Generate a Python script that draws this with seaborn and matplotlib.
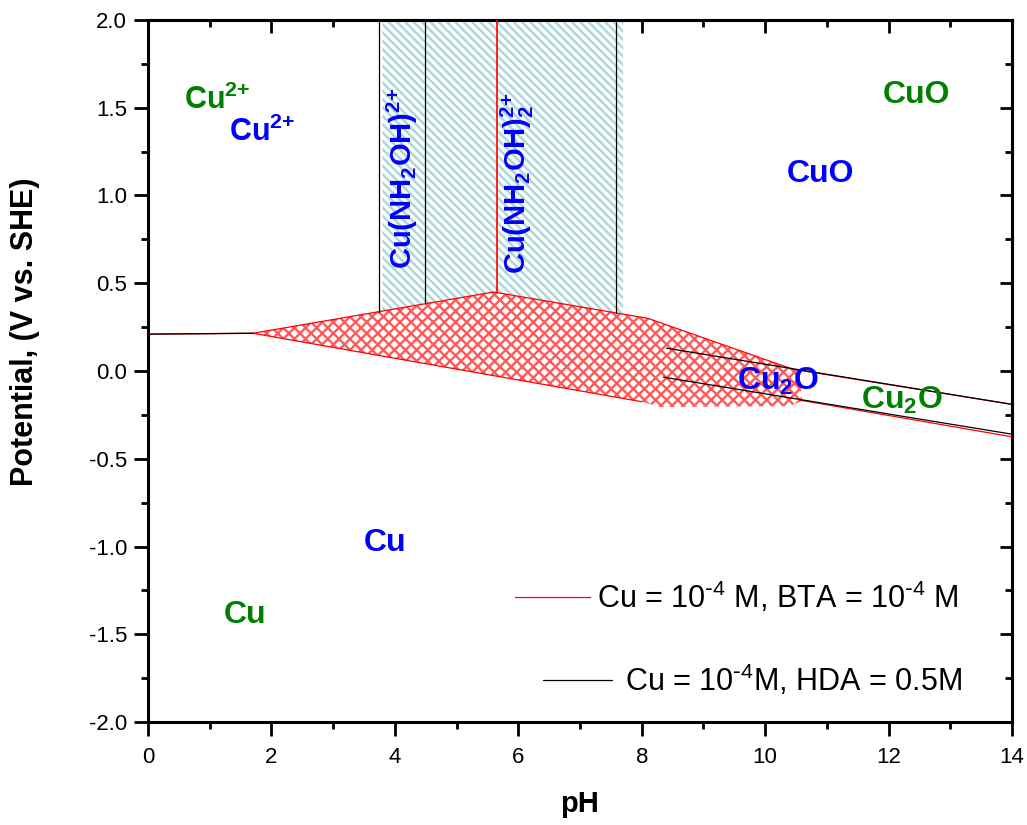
import numpy as np
import pandas as pd
import matplotlib
matplotlib.use("Agg")
import matplotlib.pyplot as plt
from matplotlib.ticker import MultipleLocator
import seaborn as sns

# ---- boundary data (pH, potential V vs. SHE) ----
# Cu / BTA system
bta_base_ph = [0.0, 1.7]
bta_base_e = [0.21, 0.215]
bta_upper_ph = [1.7, 5.6, 8.1, 10.45, 14.0]
bta_upper_e = [0.215, 0.45, 0.30, 0.01, -0.19]
bta_lower_left_ph = [1.7, 8.0]
bta_lower_left_e = [0.215, -0.175]
bta_lower_right_ph = [10.55, 14.0]
bta_lower_right_e = [-0.165, -0.375]
bta_vertical_ph = [5.66, 5.66]
bta_vertical_e = [0.446, 2.0]

# Cu-BTA film region (top edge left->right, bottom edge right->left)
film_top_ph = [1.7, 5.6, 8.1, 10.55]
film_top_e = [0.215, 0.45, 0.30, 0.0]
film_bottom_ph = [10.6, 10.4, 8.3, 8.0, 1.7]
film_bottom_e = [-0.17, -0.20, -0.205, -0.175, 0.215]

# Cu / HDA system
hda_base_ph = [0.0, 1.7]
hda_base_e = [0.21, 0.215]
hda_vert_ph = [3.74, 4.49, 7.58]
hda_vert_e_low = [0.335, 0.385, 0.33]
hda_upper_ph = [8.4, 14.0]
hda_upper_e = [0.13, -0.19]
hda_lower_ph = [8.35, 14.0]
hda_lower_e = [-0.035, -0.36]

# Cu(NH2OH) complex region
complex_ph = [3.8, 4.49, 5.6, 7.7]
complex_e_low = [0.34, 0.385, 0.45, 0.32]
complex_e_top = 2.0

# species labels: (text, pH, E, colour, rotation, size)
label_text = [r"Cu$^{2{+}}$", r"Cu$^{2{+}}$", "CuO", "CuO",
              r"Cu(NH$_2$OH)$^{2{+}}$", r"Cu(NH$_2$OH)$_2^{2{+}}$",
              r"Cu$_2$O", r"Cu$_2$O", "Cu", "Cu"]
label_ph = [1.12, 1.85, 12.45, 10.9, 4.12, 5.98, 10.2, 12.22, 3.84, 1.57]
label_e = [1.54, 1.36, 1.57, 1.12, 1.10, 1.07, -0.06, -0.17, -0.98, -1.39]
label_color = ["green", "blue", "green", "blue", "blue", "blue",
               "blue", "green", "blue", "green"]
label_rot = [0, 0, 0, 0, 90, 90, 0, 0, 0, 0]
label_size = [22, 22, 23, 23, 21, 21, 23, 23, 23, 23]

legend_text = [r"Cu = 10$^{\text{-}4}$ M, BTA = 10$^{\text{-}4}$ M",
               r"Cu = 10$^{\text{-}4}$M, HDA = 0.5M"]

sns.set_theme(style="ticks")
plt.rcParams["font.family"] = ["Liberation Sans", "DejaVu Sans"]
plt.rcParams["mathtext.default"] = "regular"
for key in ["text.color", "axes.labelcolor", "xtick.color", "ytick.color",
            "axes.edgecolor"]:
    plt.rcParams[key] = "black"

RED = "#ff0000"

fig = plt.figure(figsize=(10.27, 8.25), dpi=100)
ax = fig.add_axes([0.1441, 0.1248, 0.8413, 0.8510])


def seg(x, y, color, lw=0.9):
    df = pd.DataFrame({"pH": x, "E": y})
    sns.lineplot(data=df, x="pH", y="E", ax=ax, color=color, lw=lw,
                 sort=False, estimator=None, zorder=4)


# hatched complex region
with plt.rc_context({"hatch.linewidth": 1.7}):
    xs = complex_ph + complex_ph[::-1]
    ys = complex_e_low + [complex_e_top] * len(complex_ph)
    ax.fill(xs, ys, facecolor="white", edgecolor="#a9d7d8",
            hatch="\\" * 4, lw=0, zorder=1)

# patterned film region
with plt.rc_context({"hatch.linewidth": 1.7}):
    ax.fill(film_top_ph + film_bottom_ph, film_top_e + film_bottom_e,
            facecolor="white", edgecolor="#ff5a5a", hatch="xxx",
            lw=0, zorder=2)

# red (BTA) boundaries
seg(bta_base_ph, bta_base_e, RED)
seg(bta_upper_ph, bta_upper_e, RED)
seg(bta_lower_left_ph, bta_lower_left_e, RED)
seg(bta_lower_right_ph, bta_lower_right_e, RED)
seg(bta_vertical_ph, bta_vertical_e, RED, lw=1.2)

# black (HDA) boundaries
seg(hda_base_ph, hda_base_e, "black")
for p, lo in zip(hda_vert_ph, hda_vert_e_low):
    seg([p, p], [lo, 2.0], "black")
seg(hda_upper_ph, hda_upper_e, "black")
seg(hda_lower_ph, hda_lower_e, "black")

for t, x, y, c, r, fs in zip(label_text, label_ph, label_e, label_color,
                             label_rot, label_size):
    ax.text(x, y, t, color=c, rotation=r, fontsize=fs, fontweight="bold",
            ha="center", va="center", zorder=5)

# legend entries
ax.plot([0.425, 0.512], [0.178, 0.178], transform=ax.transAxes,
        color=RED, lw=0.9)
ax.text(0.52, 0.178, legend_text[0], transform=ax.transAxes,
        fontsize=22, va="center", ha="left")
ax.plot([0.457, 0.537], [0.060, 0.060], transform=ax.transAxes,
        color="black", lw=0.9)
ax.text(0.552, 0.060, legend_text[1], transform=ax.transAxes,
        fontsize=22, va="center", ha="left")

ax.set_xlim(0, 14)
ax.set_ylim(-2.0, 2.0)
ax.xaxis.set_minor_locator(MultipleLocator(1))
ax.yaxis.set_minor_locator(MultipleLocator(0.25))
ax.set_xticks(np.arange(0, 15, 2))
ax.set_xticklabels([str(v) for v in range(0, 15, 2)])
ax.set_yticks(np.arange(-2.0, 2.01, 0.5))
ax.set_yticklabels([f"{v:.1f}" for v in np.arange(-2.0, 2.01, 0.5)])

ax.tick_params(which="major", direction="out", length=10, width=2,
               labelsize=16, colors="black", pad=5)
ax.tick_params(axis="x", which="major", pad=8)
ax.tick_params(which="minor", direction="out", length=5, width=2)

for s in ax.spines.values():
    s.set_visible(True)
    s.set_linewidth(2.2)
    s.set_color("black")

# mirrored inward ticks on top and right
top = ax.secondary_xaxis("top")
top.xaxis.set_major_locator(MultipleLocator(2))
top.xaxis.set_minor_locator(MultipleLocator(1))
top.tick_params(which="major", direction="in", length=9, width=2, labeltop=False)
top.tick_params(which="minor", direction="in", length=5, width=2)
top.spines["top"].set_linewidth(2.2)
right = ax.secondary_yaxis("right")
right.yaxis.set_major_locator(MultipleLocator(0.5))
right.yaxis.set_minor_locator(MultipleLocator(0.25))
right.tick_params(which="major", direction="in", length=9, width=2, labelright=False)
right.tick_params(which="minor", direction="in", length=5, width=2)
right.spines["right"].set_linewidth(2.2)

ax.set_xlabel("pH", fontsize=21, fontweight="bold", labelpad=16)
ax.set_ylabel("Potential, (V vs. SHE)", fontsize=22, fontweight="bold")
ax.yaxis.set_label_coords(-0.125, 0.556)

fig.savefig("out.png", dpi=100, facecolor="white")
